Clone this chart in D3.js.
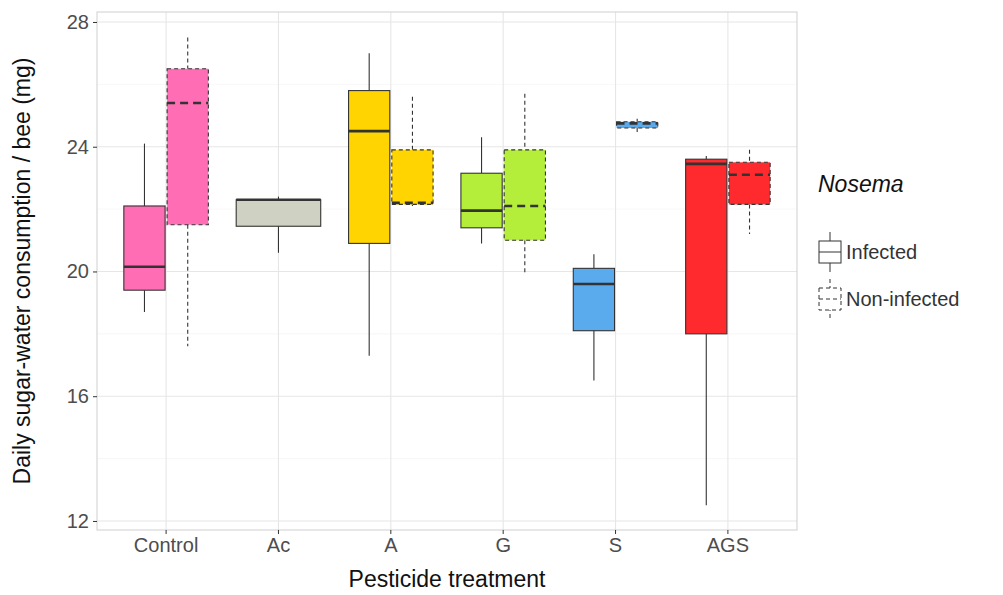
<!DOCTYPE html>
<html><head><meta charset="utf-8">
<script src="https://cdn.jsdelivr.net/npm/d3@7"></script>
<style>body{margin:0;background:#fff;font-family:"Liberation Sans",Arial,sans-serif}</style>
</head><body><svg id="c" width="1003" height="595"></svg>
<script>
const categories = ['Control', 'Ac', 'A', 'G', 'S', 'AGS'];
const colors = ['#ff6eb4', '#cfd1c3', '#ffd400', '#b5ee3a', '#5aaaee', '#ff2a2e'];
// [category, group, lowWhisker, q1, median, q3, highWhisker]
const boxes = [
  ['Control', 'Infected', 18.7, 19.4, 20.15, 22.1, 24.1],
  ['Control', 'Non-infected', 17.6, 21.5, 25.4, 26.5, 27.5],
  ['Ac', 'Infected', 20.6, 21.45, 22.3, 22.3, 22.4],
  ['A', 'Infected', 17.3, 20.9, 24.5, 25.8, 27.0],
  ['A', 'Non-infected', 22.1, 22.15, 22.2, 23.9, 25.6],
  ['G', 'Infected', 20.9, 21.4, 21.95, 23.15, 24.3],
  ['G', 'Non-infected', 19.9, 21.0, 22.1, 23.9, 25.7],
  ['S', 'Infected', 16.5, 18.1, 19.6, 20.1, 20.55],
  ['S', 'Non-infected', 24.4, 24.6, 24.75, 24.8, 24.9],
  ['AGS', 'Infected', 12.5, 18.0, 23.45, 23.6, 23.7],
  ['AGS', 'Non-infected', 21.2, 22.15, 23.1, 23.5, 23.9]
];
const yTicks = [12, 16, 20, 24, 28];
const font = '"Liberation Sans", Arial, sans-serif';

const svg = d3.select('#c');
const m = {l: 97, r: 797, t: 12, b: 530};
const x = d3.scaleBand().domain(categories).range([m.l, m.r]).padding(0.23);
const y = d3.scaleLinear().domain([11.71, 28.32]).range([m.b, m.t]);
const col = d3.scaleOrdinal().domain(categories).range(colors);

// grid
const minor = d3.range(14, 28, 4);
svg.selectAll('.mn').data(minor).enter().append('line')
  .attr('x1', m.l).attr('x2', m.r).attr('y1', d => y(d)).attr('y2', d => y(d))
  .attr('stroke', '#f2f2f2').attr('stroke-width', 0.6);
svg.selectAll('.gy').data(yTicks).enter().append('line')
  .attr('x1', m.l).attr('x2', m.r).attr('y1', d => y(d)).attr('y2', d => y(d))
  .attr('stroke', '#e6e6e6').attr('stroke-width', 1.1);
svg.selectAll('.gx').data(categories).enter().append('line')
  .attr('y1', m.t).attr('y2', m.b).attr('x1', d => x(d) + x.bandwidth() / 2).attr('x2', d => x(d) + x.bandwidth() / 2)
  .attr('stroke', '#e6e6e6').attr('stroke-width', 1.1);
svg.append('rect').attr('x', m.l).attr('y', m.t).attr('width', m.r - m.l).attr('height', m.b - m.t)
  .attr('fill', 'none').attr('stroke', '#cfcfcf');

// boxes
boxes.forEach(b => {
  const [cat, grp, lo, q1, med, q3, hi] = b;
  const same = boxes.filter(d => d[0] === cat);
  const idx = same.indexOf(b);
  const w = x.bandwidth() / same.length;
  const x0 = x(cat) + idx * w;
  const cx = x0 + w / 2;
  const dash = grp === 'Non-infected' ? '4,3' : null;
  const g = svg.append('g').attr('stroke', '#333').attr('stroke-dasharray', dash);
  g.append('line').attr('x1', cx).attr('x2', cx).attr('y1', y(hi)).attr('y2', y(q3)).attr('stroke-width', 1.1);
  g.append('line').attr('x1', cx).attr('x2', cx).attr('y1', y(q1)).attr('y2', y(lo)).attr('stroke-width', 1.1);
  g.append('rect').attr('x', x0 + 1).attr('width', w - 2).attr('y', y(q3)).attr('height', y(q1) - y(q3))
    .attr('fill', col(cat)).attr('stroke-width', 1.1);
  g.append('line').attr('x1', x0 + 1).attr('x2', x0 + w - 1).attr('y1', y(med)).attr('y2', y(med))
    .attr('stroke-width', 2.6).attr('stroke-dasharray', grp === 'Non-infected' ? '8,5' : null);
});

// axes
const ya = svg.append('g').attr('transform', `translate(${m.l},0)`)
  .call(d3.axisLeft(y).tickValues(yTicks).tickSize(4).tickPadding(4));
const xa = svg.append('g').attr('transform', `translate(0,${m.b})`)
  .call(d3.axisBottom(x).tickSize(4).tickPadding(4));
[ya, xa].forEach(a => {
  a.select('.domain').remove();
  a.selectAll('line').attr('stroke', '#333');
  a.selectAll('text').attr('fill', '#4d4d4d').style('font-size', '20px').style('font-family', font);
});
svg.append('text').attr('x', (m.l + m.r) / 2).attr('y', 587).attr('text-anchor', 'middle')
  .attr('fill', '#111').style('font-size', '23px').style('font-family', font).text('Pesticide treatment');
svg.append('text').attr('transform', `translate(30,${(m.t + m.b) / 2}) rotate(-90)`).attr('text-anchor', 'middle')
  .attr('fill', '#111').style('font-size', '23px').style('font-family', font).text('Daily sugar-water consumption / bee (mg)');

// legend
const lg = svg.append('g').style('font-family', font);
lg.append('text').attr('x', 818).attr('y', 192).style('font-size', '23px').style('font-style', 'italic')
  .attr('fill', '#111').text('Nosema');
['Infected', 'Non-infected'].forEach((k, i) => {
  const yy = 252 + i * 47;
  const gg = lg.append('g').attr('stroke', '#333').attr('stroke-dasharray', i ? '4,3' : null).attr('fill', 'none');
  gg.append('line').attr('x1', 830).attr('x2', 830).attr('y1', yy - 20).attr('y2', yy + 20);
  gg.append('rect').attr('x', 819).attr('y', yy - 11).attr('width', 22).attr('height', 22).attr('fill', '#fff');
  gg.append('line').attr('x1', 819).attr('x2', 841).attr('y1', yy).attr('y2', yy);
  lg.append('text').attr('x', 846).attr('y', yy + 7).style('font-size', '20px').attr('fill', '#333').text(k);
});
</script></body></html>
